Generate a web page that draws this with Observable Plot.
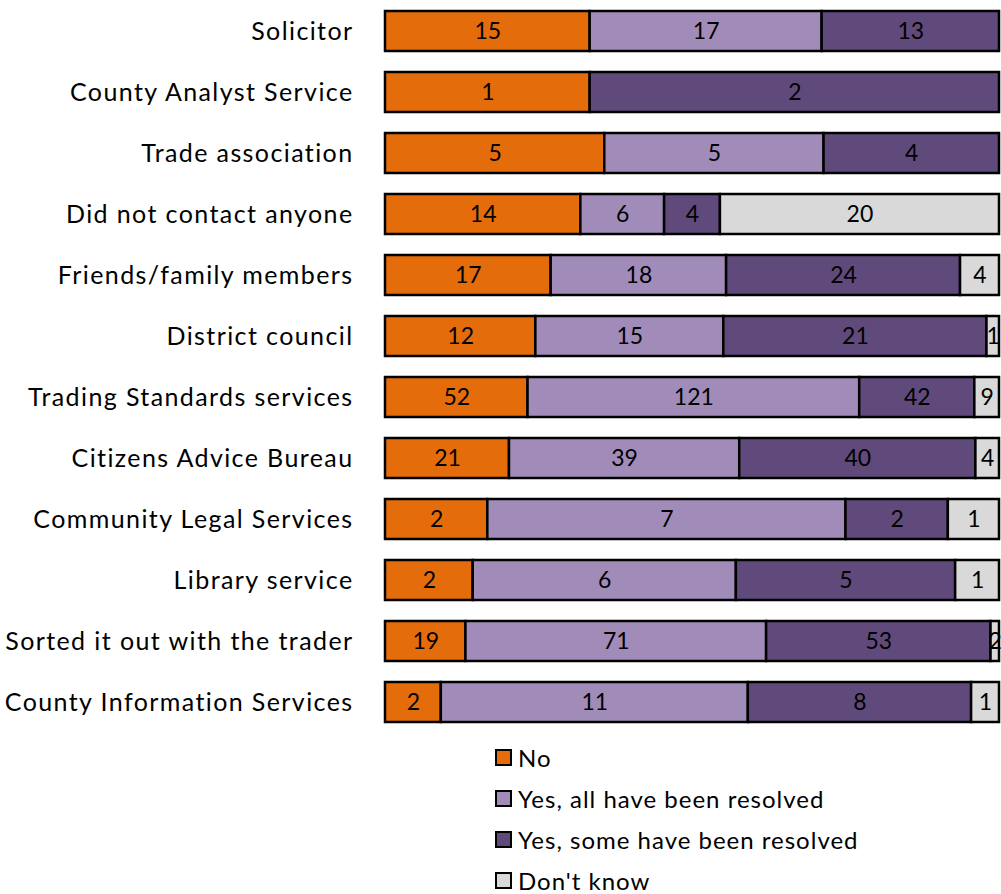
<!DOCTYPE html>
<html>
<head>
<meta charset="utf-8">
<script src="https://cdn.jsdelivr.net/npm/d3@7"></script>
<script src="https://cdn.jsdelivr.net/npm/@observablehq/plot@0.6"></script>
<style>
  html, body { margin: 0; padding: 0; background: #fff; }
  #wrap { width: 1001px; height: 894px; position: relative; font-family: Lato, "Noto Sans", sans-serif; }
  #legend { position: absolute; left: 495px; top: 737px; }
  .item { display: flex; align-items: center; height: 41px; font-size: 24px; letter-spacing: 1px; color: #000; line-height: 1; }
  .sw { width: 13px; height: 13px; border: 2.5px solid #000; margin-right: 6px; box-sizing: content-box; }
  #chart svg g[aria-label="y-axis tick label"] text { letter-spacing: 1.4px; }
</style>
</head>
<body>
<div id="wrap">
  <div id="chart"></div>
  <div id="legend"></div>
</div>
<script>
const categories = [
  "Solicitor",
  "County Analyst Service",
  "Trade association",
  "Did not contact anyone",
  "Friends/family members",
  "District council",
  "Trading Standards services",
  "Citizens Advice Bureau",
  "Community Legal Services",
  "Library service",
  "Sorted it out with the trader",
  "County Information Services"
];
const seriesNames = ["No", "Yes, all have been resolved", "Yes, some have been resolved", "Don't know"];
const seriesColors = ["#E46C0A", "#A18CB9", "#604A7B", "#D9D9D9"];
const noValues = [15, 1, 5, 14, 17, 12, 52, 21, 2, 2, 19, 2];
const allResolved = [17, 0, 5, 6, 18, 15, 121, 39, 7, 6, 71, 11];
const someResolved = [13, 2, 4, 4, 24, 21, 42, 40, 2, 5, 53, 8];
const dontKnow = [0, 0, 0, 20, 4, 1, 9, 4, 1, 1, 2, 1];

const seriesValues = [noValues, allResolved, someResolved, dontKnow];
const rows = [];
categories.forEach((c, i) => {
  seriesNames.forEach((s, j) => {
    const v = seriesValues[j][i];
    if (v > 0) rows.push({category: c, series: s, value: v});
  });
});

const chart = Plot.plot({
  width: 1001,
  height: 733,
  marginLeft: 385,
  marginRight: 2,
  marginTop: 0,
  marginBottom: 0,
  style: {fontFamily: "Lato, 'Noto Sans', sans-serif", fontSize: "25px", background: "#fff", color: "#000"},
  x: {axis: null},
  y: {domain: categories, paddingInner: 0.35, paddingOuter: 0.16, label: null, tickSize: 0, tickPadding: 32},
  color: {domain: seriesNames, range: seriesColors},
  marks: [
    Plot.barX(rows, Plot.stackX({
      x: "value", y: "category", z: "series", fill: "series", order: seriesNames, offset: "normalize",
      stroke: "#000", strokeWidth: 2.5
    })),
    Plot.text(rows, Plot.stackX({
      x: "value", y: "category", z: "series", text: d => String(d.value), order: seriesNames, offset: "normalize",
      fill: "#000", fontSize: 23
    }))
  ]
});
document.getElementById("chart").appendChild(chart);

const legend = document.getElementById("legend");
seriesNames.forEach((s, i) => {
  const item = document.createElement("div");
  item.className = "item";
  const sw = document.createElement("div");
  sw.className = "sw";
  sw.style.background = seriesColors[i];
  const t = document.createElement("span");
  t.textContent = s;
  item.appendChild(sw);
  item.appendChild(t);
  legend.appendChild(item);
});
</script>
</body>
</html>
